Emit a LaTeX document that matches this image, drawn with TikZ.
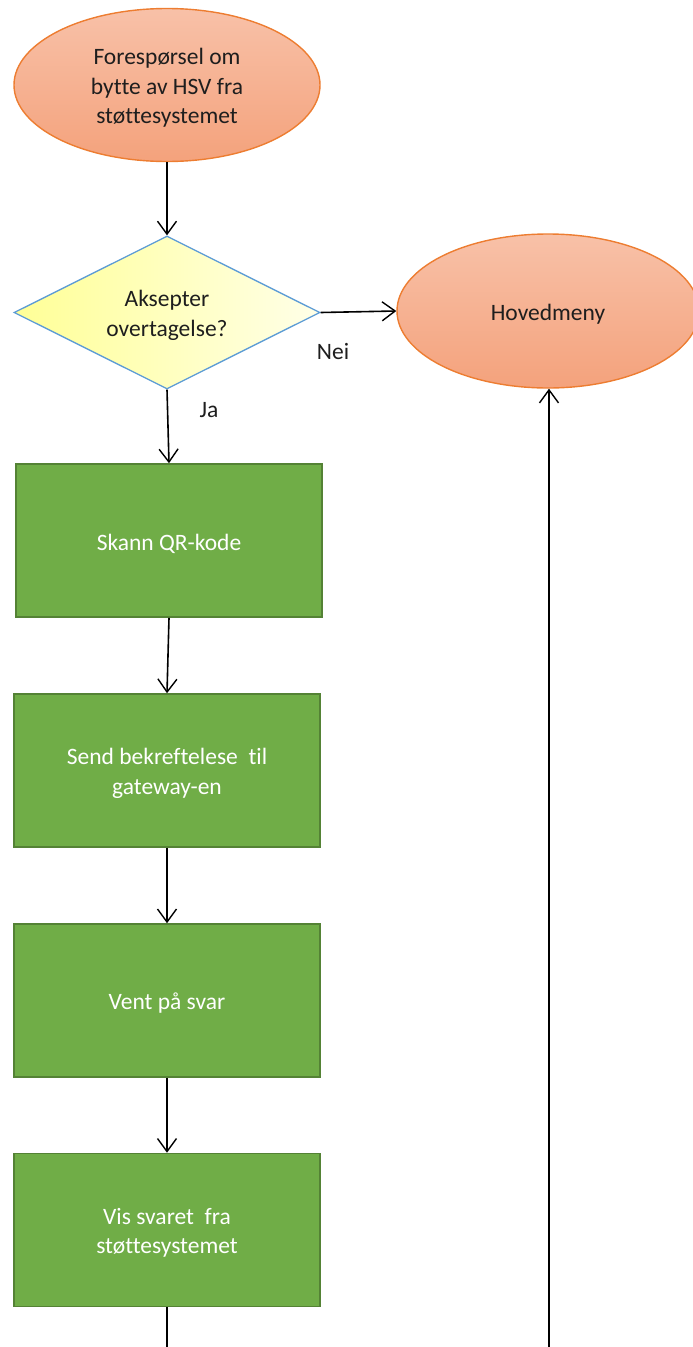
\documentclass[tikz,border=0pt]{standalone}
\usepackage{fontspec}
\setmainfont[Ligatures={NoCommon}]{Carlito}
\usetikzlibrary{shapes.geometric,arrows.meta}
\definecolor{orangeline}{RGB}{237,125,49}
\definecolor{salmontop}{RGB}{248,193,168}
\definecolor{salmonbot}{RGB}{244,162,124}
\definecolor{bluebord}{RGB}{91,155,213}
\definecolor{yellowl}{RGB}{255,255,150}
\definecolor{yellowr}{RGB}{255,255,232}
\definecolor{greenfill}{RGB}{112,173,71}
\definecolor{greenline}{RGB}{84,130,53}
\definecolor{darktext}{RGB}{30,30,30}
\tikzset{
  txt/.style={font=\fontsize{23.5}{29.5}\selectfont},
  % captions placed in the middle of a shape, set a touch lower than centre
  darkin/.style={label={[txt, align=center, inner sep=0pt, yshift=-3pt, text=darktext]center:#1}},
  whitein/.style={label={[txt, align=center, inner sep=0pt, yshift=-3pt, text=white]center:#1}},
  terminal/.style={ellipse, draw=orangeline, line width=1.4pt,
    top color=salmontop, bottom color=salmonbot,
    minimum width=306pt, minimum height=153pt, inner sep=0pt},
  decision/.style={diamond, draw=bluebord, line width=1.3pt,
    left color=yellowl, right color=yellowr,
    minimum width=306pt, minimum height=153pt, inner sep=0pt, aspect=2},
  stepbox/.style={rectangle, draw=greenline, line width=1.6pt, fill=greenfill,
    minimum width=306pt, minimum height=153pt, inner sep=0pt},
  flow/.style={line width=1.6pt, -{Straight Barb[length=13pt,width=19pt,line width=1.4pt]}},
  plain/.style={line width=1.6pt},
  lbl/.style={txt, text=darktext, inner sep=0pt}
}
\begin{document}
\begin{tikzpicture}[x=1pt,y=-1pt]
  \useasboundingbox (0,0) rectangle (693,1347);

  % nodes
  \node[terminal, darkin={Forespørsel om\\bytte av HSV fra\\støttesystemet}] (req) at (167,85) {};
  \node[decision, darkin={Aksepter\\overtagelse?}] (acc) at (167,312.5) {};
  \node[terminal, minimum width=302pt, minimum height=154pt, darkin={Hovedmeny}] (menu) at (548,311) {};
  \node[stepbox, whitein={Skann QR-kode}] (scan) at (169,540.5) {};
  \node[stepbox, whitein={Send bekreftelese\ \ til\\gateway-en}] (send) at (167,770.5) {};
  \node[stepbox, whitein={Vent på svar}] (wait) at (167,1000.5) {};
  \node[stepbox, whitein={Vis svaret\ \ fra\\støttesystemet}] (show) at (167,1230) {};

  % labels
  \node[lbl] (nei) at (333,351) {Nei};
  \node[lbl] (ja) at (209,410) {Ja};

  % loose ends running off the bottom
  \coordinate (endl) at (167,1352);
  \coordinate (endr) at (549,1352);

  % connectors
  \draw[flow] (req.south) -- (acc.north);
  \draw[flow] (acc.east) -- (menu.west);
  \draw[flow] (acc.south) -- (scan.north);
  \draw[flow] (scan.south) -- (send.north);
  \draw[flow] (send.south) -- (wait.north);
  \draw[flow] (wait.south) -- (show.north);
  \draw[plain] (show.south) -- (endl);
  \draw[flow] (endr) -- (menu.south -| endr);
\end{tikzpicture}
\end{document}
